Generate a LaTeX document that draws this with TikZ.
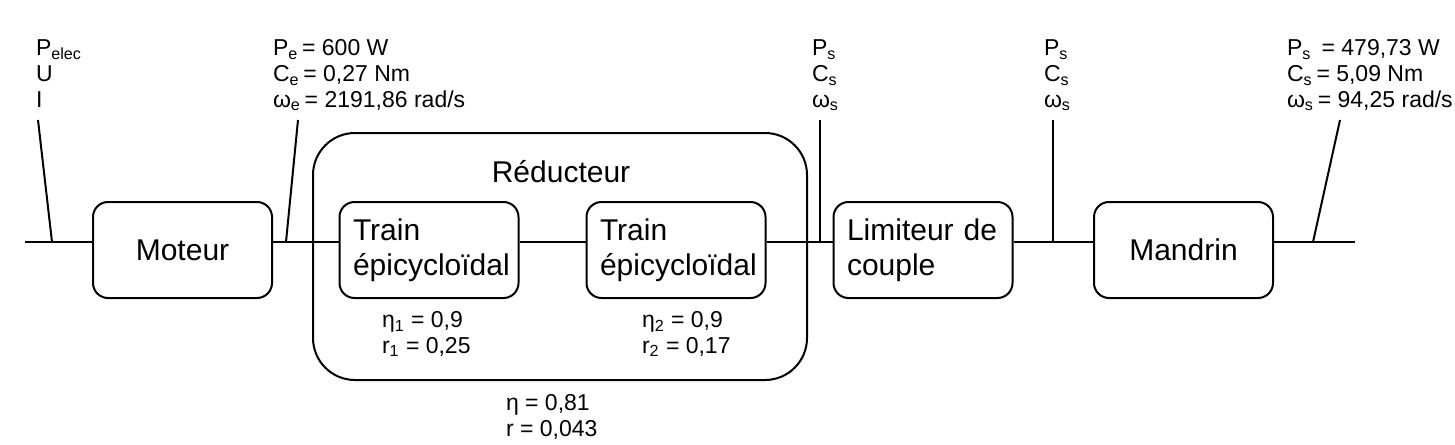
\documentclass[tikz,border=0pt]{standalone}
\usepackage{fontspec}
\setmainfont{Liberation Sans}
\usepackage{tikz}
\usetikzlibrary{positioning,calc}

\begin{document}
\begin{tikzpicture}[x=0.5pt, y=-0.5pt, line width=1pt,
  bloc/.style={draw, rounded corners=7.5pt, minimum width=89.5pt, minimum height=48pt, inner sep=0pt, font=\fontsize{15}{17.5}\selectfont},
  gbloc/.style={bloc, align=left, text width=76pt, inner xsep=6.75pt},
  grand/.style={draw, rounded corners=21pt, minimum width=247pt, minimum height=123.5pt, inner sep=0pt},
  info/.style={anchor=base west, align=left, inner sep=0pt, font=\fontsize{11.5}{12.75}\selectfont}]
\useasboundingbox (0,0) rectangle (1455,444);
% reducteur
\node[grand] (red) at (560,256.5) {};
\node[anchor=base, inner sep=0pt, font=\fontsize{15}{17.5}\selectfont] (redt) at (561,182) {Réducteur};
% blocs
\node[bloc] (mot) at (182.5,250) {Moteur};
\node[gbloc] (tr1) at (429,250) {Train\\épicycloïdal};
\node[gbloc] (tr2) at (676,250) {Train\\épicycloïdal};
\node[gbloc] (lim) at (923,250) {Limiteur de\\couple};
\node[bloc] (man) at (1183.5,250) {Mandrin};
% axe
\coordinate (e) at (25,242);
\coordinate (s) at (1355,242);
\draw (e) -- ([yshift=4pt]mot.west);
\draw ([yshift=4pt]mot.east) -- ([yshift=4pt]tr1.west);
\draw ([yshift=4pt]tr1.east) -- ([yshift=4pt]tr2.west);
\draw ([yshift=4pt]tr2.east) -- ([yshift=4pt]lim.west);
\draw ([yshift=4pt]lim.east) -- ([yshift=4pt]man.west);
\draw ([yshift=4pt]man.east) -- (s);
% grandeurs
\node[info] (g0) at (35,107) {P\textsubscript{elec}\\U\\I};
\node[info] (g1) at (272,107) {P\textsubscript{e}\,= 600 W\\C\textsubscript{e}\,= 0,27 Nm\\ω\textsubscript{e}\,= 2191,86 rad/s};
\node[info] (g2) at (811,107) {P\textsubscript{s}\\C\textsubscript{s}\\ω\textsubscript{s}};
\node[info] (g3) at (1043,107) {P\textsubscript{s}\\C\textsubscript{s}\\ω\textsubscript{s}};
\node[info] (g4) at (1286,107) {P\textsubscript{s}\ \,= 479,73 W\\C\textsubscript{s}\,= 5,09 Nm\\ω\textsubscript{s}\,= 94,25 rad/s};
\node[info] (k1) at (381,353) {η\textsubscript{1} = 0,9\\r\textsubscript{1} = 0,25};
\node[info] (k2) at (641,353) {η\textsubscript{2} = 0,9\\r\textsubscript{2} = 0,17};
\node[info] (k) at (505,436) {η = 0,81\\r = 0,043};
% traits de rappel
\coordinate (h0) at (38,120);   \coordinate (b0) at (52,242);
\coordinate (h1) at (298,120);  \coordinate (b1) at (286,242);
\coordinate (h2) at (820,120);  \coordinate (b2) at (820,242);
\coordinate (h3) at (1053,120); \coordinate (b3) at (1053,242);
\coordinate (h4) at (1340,120); \coordinate (b4) at (1313,242);
\foreach \i in {0,...,4} \draw (h\i) -- (b\i);
\end{tikzpicture}
\end{document}
